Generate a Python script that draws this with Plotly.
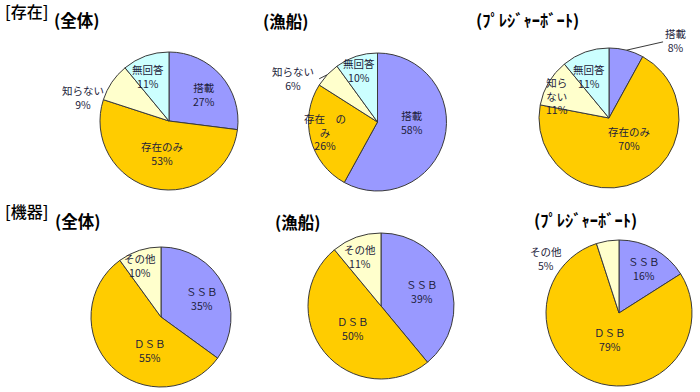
import math
import plotly.graph_objects as go

W, H = 700, 392

# ---------------- data ----------------
sonzai_labels = ["搭載", "存在のみ", "知らない", "無回答"]
sonzai_all = [27, 53, 9, 11]
sonzai_fish = [58, 26, 6, 10]
sonzai_boat = [8, 70, 11, 11]

kiki_labels = ["ＳＳＢ", "ＤＳＢ", "その他"]
kiki_all = [35, 55, 10]
kiki_fish = [39, 50, 11]
kiki_boat = [16, 79, 5]

# ---------------- styling ----------------
sonzai_colors = ["#9999FF", "#FFCC00", "#FFFFCC", "#CCFFFF"]
kiki_colors = ["#9999FF", "#FFCC00", "#FFFFCC"]
FONT = "Noto Sans CJK JP"
TXT = "#1c1c3a"

# layout per chart: center (px), radius (px), label text overrides, radial factor, angle offset
charts = [
    dict(values=sonzai_all, labels=sonzai_labels, colors=sonzai_colors, c=(169, 121), r=69,
         text=None, lr=[0.63, 0.49, 1.29, 0.71], da=[4, 0, -18.6, -5.7], leader=[]),
    dict(values=sonzai_fish, labels=sonzai_labels, colors=sonzai_colors, c=(377.5, 122), r=69,
         text=[None, "存在　の<br>み", None, None], lr=[0.5, 0.77, 1.38, 0.79], da=[-14.4, 4, -15.7, -2], leader=[2]),
    dict(values=sonzai_boat, labels=sonzai_labels, colors=sonzai_colors, c=(609, 118), r=70,
         text=[None, None, "知ら<br>ない", None], lr=[1.46, 0.41, 0.81, 0.66], da=[26.6, -20, -8, -5.7], leader=[0]),
    dict(values=kiki_all, labels=kiki_labels, colors=kiki_colors, c=(161, 317), r=70,
         text=None, lr=[0.64, 0.5, 0.8], da=[3, -26.6, -4], leader=[]),
    dict(values=kiki_fish, labels=kiki_labels, colors=kiki_colors, c=(381, 306), r=73,
         text=None, lr=[0.6, 0.49, 0.73], da=[0, 0, -3], leader=[]),
    dict(values=kiki_boat, labels=kiki_labels, colors=kiki_colors, c=(619, 313), r=73,
         text=None, lr=[0.7, 0.38, 1.25], da=[0, 0, -44], leader=[]),
]

fig = go.Figure()
annotations = []
shapes = []

def px2paper(x, y):
    return x / W, 1 - y / H

for ch in charts:
    cx, cy = ch["c"]
    r = ch["r"]
    x0, y1 = px2paper(cx - r, cy - r)
    x1, y0 = px2paper(cx + r, cy + r)
    fig.add_trace(go.Pie(
        values=ch["values"], labels=ch["labels"],
        marker=dict(colors=ch["colors"], line=dict(color="#3a3a3a", width=1)),
        sort=False, direction="clockwise", rotation=0,
        textinfo="none", hoverinfo="label+percent", showlegend=False,
        domain=dict(x=[x0, x1], y=[y0, y1]),
    ))
    total = sum(ch["values"])
    start = 0.0
    for i, v in enumerate(ch["values"]):
        span = 360.0 * v / total
        mid = start + span / 2
        start += span
        ang = math.radians(mid + ch["da"][i])
        d = ch["lr"][i] * r
        lx = cx + d * math.sin(ang)
        ly = cy - d * math.cos(ang)
        name = ch["labels"][i]
        if ch["text"] and ch["text"][i]:
            name = ch["text"][i]
        px_, py_ = px2paper(lx, ly)
        annotations.append(dict(
            x=px_, y=py_, xref="paper", yref="paper", showarrow=False,
            text=f"{name}<br>{v}%", xanchor="center", yanchor="middle",
            font=dict(family=FONT, size=10.5, color=TXT), align="center",
        ))
        if i in ch["leader"]:
            m = math.radians(mid)
            ex = cx + r * math.sin(m)
            ey = cy - r * math.cos(m)
            if lx > cx:
                tx, ty = lx - 13, ly + 1
            else:
                tx, ty = ex - 8, ey + 4
            a0 = px2paper(ex, ey)
            a1 = px2paper(tx, ty)
            shapes.append(dict(type="line", xref="paper", yref="paper",
                               x0=a0[0], y0=a0[1], x1=a1[0], y1=a1[1],
                               line=dict(color="#3a3a3a", width=1)))

# (text, left x px, center y px, size, bold)
titles = [
    ("[存在]", 3, 11.5, 16, False),
    ("(全体)", 52, 20.5, 16.5, True),
    ("(漁船)", 261, 21, 16.5, True),
    ("(ﾌﾟﾚｼﾞｬｰﾎﾞｰﾄ)", 474, 20, 16.5, True),
    ("[機器]", 3, 211, 16, False),
    ("(全体)", 53, 220.5, 16.5, True),
    ("(漁船)", 273, 221.5, 16.5, True),
    ("(ﾌﾟﾚｼﾞｬｰﾎﾞｰﾄ)", 532, 219.5, 16.5, True),
]
for t, x, y, s, b in titles:
    px_, py_ = px2paper(x, y)
    annotations.append(dict(
        x=px_, y=py_, xref="paper", yref="paper", showarrow=False,
        text=f"<b>{t}</b>" if b else t, xanchor="left", yanchor="middle",
        font=dict(family=FONT, size=s, color="#000000", weight=500 if not b else None),
    ))

fig.update_layout(
    width=W, height=H, margin=dict(l=0, r=0, t=0, b=0),
    paper_bgcolor="white", plot_bgcolor="white",
    annotations=annotations, shapes=shapes,
)
fig.write_html(
    "out.html",
    config={"displayModeBar": False},
    post_script="document.body.style.margin='0';document.body.style.padding='0';",
)
